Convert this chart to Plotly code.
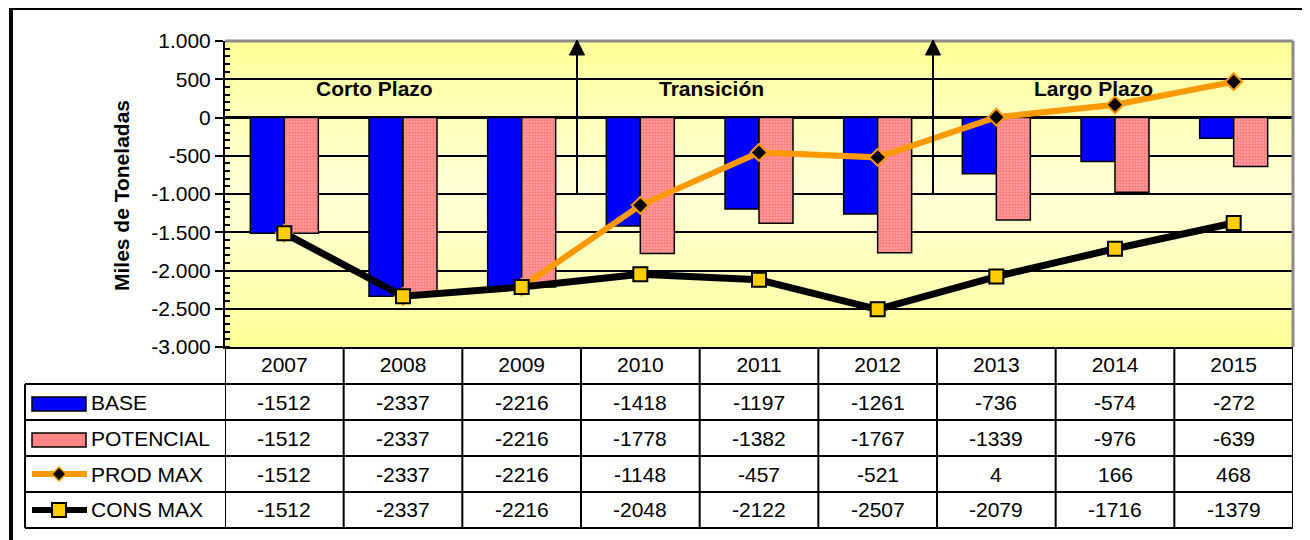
import plotly.graph_objects as go


YEARS = ["2007", "2008", "2009", "2010", "2011", "2012", "2013", "2014", "2015"]

BASE = [-1512, -2337, -2216, -1418, -1197, -1261, -736, -574, -272]
POTENCIAL = [-1512, -2337, -2216, -1778, -1382, -1767, -1339, -976, -639]
PROD_MAX = [-1512, -2337, -2216, -1148, -457, -521, 4, 166, 468]
CONS_MAX = [-1512, -2337, -2216, -2048, -2122, -2507, -2079, -1716, -1379]

Y_TICKS = [1000, 500, 0, -500, -1000, -1500, -2000, -2500, -3000]

PERIODS = ["Corto Plazo", "Transición", "Largo Plazo"]


FONT = "Liberation Sans, Arial, sans-serif"
FS = 21
BLUE = "#0000FF"
PINK_FG = "#FF4F4F"
PINK_BG = "#FFA3A3"
PINK_KEY = "#FF8585"
ORANGE = "#FF9900"
GOLD = "#FFCC00"

# the page body adds an 8px margin, so the figure is 8px smaller
OFF = 8
FIG_W, FIG_H = 1310 - OFF, 540 - OFF

# plot area in screen pixels
L, R, T, B = 225, 1293, 41, 347
W, H = R - L, B - T


def px(x):
    return (x - L) / W


def py(y):
    return (B - y) / H


def ytext(v):
    return f"{v:,}".replace(",", ".")


fig = go.Figure()

fig.add_bar(
    x=YEARS, y=BASE, name="BASE",
    marker=dict(color=BLUE, line=dict(color="black", width=1.5)),
)

fig.add_bar(
    x=YEARS, y=POTENCIAL, name="POTENCIAL",
    marker=dict(
        color=PINK_BG,
        line=dict(color="black", width=1.5),
        pattern=dict(shape=".", fgcolor=PINK_FG, bgcolor=PINK_BG, size=3, solidity=0.5),
    ),
)

fig.add_scatter(
    x=YEARS, y=PROD_MAX, name="PROD MAX", mode="lines+markers",
    line=dict(color=ORANGE, width=6),
    marker=dict(symbol="diamond", size=13, color="black", line=dict(color=ORANGE, width=2)),
)

fig.add_scatter(
    x=YEARS, y=CONS_MAX, name="CONS MAX", mode="lines+markers",
    line=dict(color="black", width=7),
    marker=dict(symbol="square", size=14, color=GOLD, line=dict(color="black", width=2)),
)


shapes = []

# yellow gradient background of the plot area
n = 40
for i in range(n):
    y0 = i / n
    mid = (i + 0.5) / n
    t = min(abs(mid - 0.5) / 0.5, 1.0)
    b = int(212 - (212 - 150) * t ** 1.3)
    shapes.append(dict(
        type="rect", xref="paper", yref="paper", x0=0, x1=1, y0=y0, y1=y0 + 1 / n + 0.002,
        fillcolor=f"rgb(255,255,{b})", line=dict(width=0), layer="below",
    ))

# grey top / right border of the plot area
shapes.append(dict(type="line", xref="paper", yref="paper", x0=0, x1=1, y0=1, y1=1,
                   line=dict(color="#8C8C8C", width=3)))
shapes.append(dict(type="line", xref="paper", yref="paper", x0=1, x1=1, y0=0, y1=1,
                   line=dict(color="#8C8C8C", width=3)))

# period arrows
for ax_px in [577, 933]:
    shapes.append(dict(type="line", xref="paper", yref="paper",
                       x0=px(ax_px), x1=px(ax_px), y0=py(193), y1=py(52),
                       line=dict(color="black", width=2)))
    shapes.append(dict(
        type="path", xref="paper", yref="paper",
        path=f"M{px(ax_px - 7.5)},{py(55)} L{px(ax_px + 7.5)},{py(55)} L{px(ax_px)},{py(40)} Z",
        fillcolor="black", line=dict(color="black", width=1),
    ))

# data table grid
row_lines = [384, 420, 456, 492, 528]
for yl in row_lines:
    shapes.append(dict(type="line", xref="paper", yref="paper",
                       x0=px(25), x1=1, y0=py(yl), y1=py(yl),
                       line=dict(color="black", width=2)))
for i in range(len(YEARS) + 1):
    shapes.append(dict(type="line", xref="x", yref="paper",
                       x0=i - 0.5, x1=i - 0.5, y0=0, y1=py(528),
                       line=dict(color="black", width=2)))
shapes.append(dict(type="line", xref="paper", yref="paper",
                   x0=px(25), x1=px(25), y0=py(384), y1=py(528),
                   line=dict(color="black", width=2)))

# legend keys in the table
shapes.append(dict(type="rect", xref="paper", yref="paper",
                   x0=px(32), x1=px(86), y0=py(411), y1=py(397),
                   fillcolor=BLUE, line=dict(color="black", width=1.5)))
shapes.append(dict(type="rect", xref="paper", yref="paper",
                   x0=px(32), x1=px(86), y0=py(447), y1=py(433),
                   fillcolor=PINK_KEY, line=dict(color="black", width=1.5)))
shapes.append(dict(type="line", xref="paper", yref="paper",
                   x0=px(32), x1=px(87), y0=py(474), y1=py(474),
                   line=dict(color=ORANGE, width=6)))
shapes.append(dict(type="path", xref="paper", yref="paper",
                   path=(f"M{px(59)},{py(467)} L{px(66)},{py(474)} "
                         f"L{px(59)},{py(481)} L{px(52)},{py(474)} Z"),
                   fillcolor="black", line=dict(color=ORANGE, width=1.5)))
shapes.append(dict(type="line", xref="paper", yref="paper",
                   x0=px(32), x1=px(87), y0=py(510), y1=py(510),
                   line=dict(color="black", width=6)))
shapes.append(dict(type="rect", xref="paper", yref="paper",
                   x0=px(52), x1=px(66), y0=py(517), y1=py(503),
                   fillcolor=GOLD, line=dict(color="black", width=2)))

# outer frame
shapes.append(dict(type="rect", xref="paper", yref="paper",
                   x0=px(11), x1=px(1306), y0=py(560), y1=py(8),
                   line=dict(color="black", width=4)))


annotations = []

for label, cx in zip(PERIODS, [374, 711, 1093]):
    annotations.append(dict(
        text=f"<b>{label}</b>", xref="paper", yref="paper", x=px(cx), y=py(88),
        xanchor="center", yanchor="middle",
        showarrow=False, font=dict(size=FS, color="black", family=FONT),
    ))

annotations.append(dict(
    text="<b>Miles de Toneladas</b>", xref="paper", yref="paper", x=px(121), y=py(196),
    xanchor="center", yanchor="middle",
    textangle=-90, showarrow=False, font=dict(size=FS, color="black", family=FONT),
))

series = [("BASE", BASE), ("POTENCIAL", POTENCIAL), ("PROD MAX", PROD_MAX), ("CONS MAX", CONS_MAX)]
row_centers = [402, 438, 474, 510]
for (name, values), yc in zip(series, row_centers):
    annotations.append(dict(
        text=name, xref="paper", yref="paper", x=px(89), y=py(yc),
        xanchor="left", yanchor="middle",
        showarrow=False, font=dict(size=FS, color="black", family=FONT),
    ))
    for i, v in enumerate(values):
        annotations.append(dict(
            text=str(v), xref="x", yref="paper", x=i, y=py(yc),
            xanchor="center", yanchor="middle",
            showarrow=False, font=dict(size=FS, color="black", family=FONT),
        ))


fig.update_layout(
    width=FIG_W,
    height=FIG_H,
    barmode="group",
    bargap=0.427,
    bargroupgap=0,
    showlegend=False,
    paper_bgcolor="white",
    plot_bgcolor="rgba(0,0,0,0)",
    font=dict(family=FONT, size=FS, color="black"),
    margin=dict(l=L - OFF, r=1310 - R, t=T - OFF, b=540 - B),
    shapes=shapes,
    annotations=annotations,
)

fig.update_xaxes(
    type="category",
    range=[-0.5, len(YEARS) - 0.5],
    showline=True,
    linecolor="black",
    linewidth=2,
    ticks="",
    ticklabelstandoff=-2,
    showgrid=False,
    tickfont=dict(size=FS, color="black"),
)

fig.update_yaxes(
    range=[-3000, 1000],
    tickvals=Y_TICKS,
    ticktext=[ytext(v) for v in Y_TICKS],
    showline=True,
    linecolor="black",
    linewidth=2,
    ticks="outside",
    ticklen=8,
    tickwidth=2,
    tickcolor="black",
    showgrid=True,
    gridcolor="black",
    gridwidth=1.5,
    zeroline=True,
    zerolinecolor="black",
    zerolinewidth=3,
    tickfont=dict(size=FS, color="black"),
    minor=dict(dtick=100, ticks="inside", ticklen=5, tickwidth=1.5, tickcolor="black", showgrid=False),
)

fig.write_html("out.html")
